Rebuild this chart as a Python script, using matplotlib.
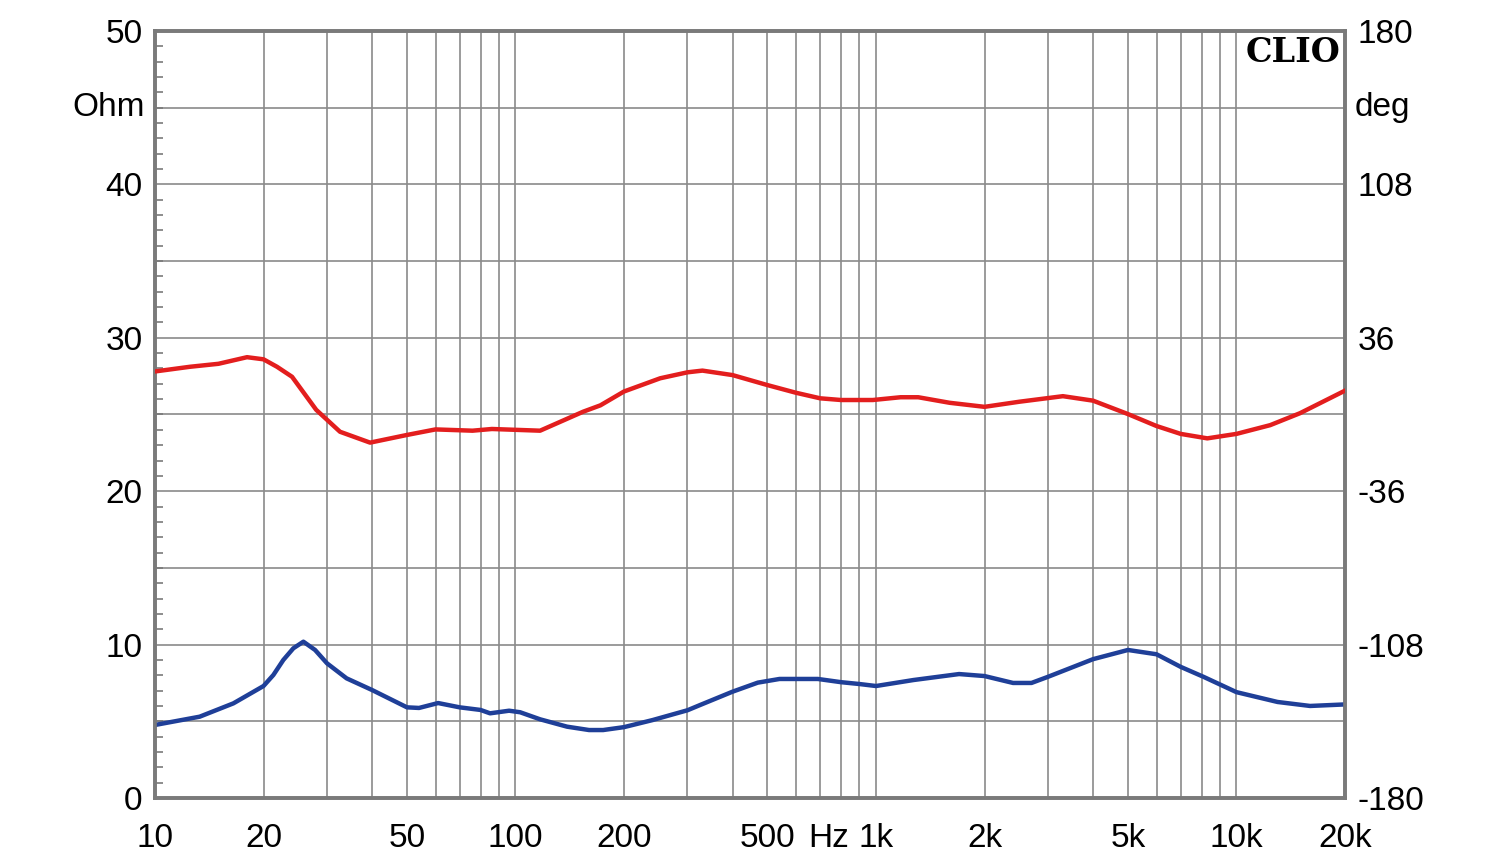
import numpy as np
import matplotlib
matplotlib.use('Agg')
import matplotlib.pyplot as plt
from matplotlib.ticker import FixedLocator, NullFormatter, NullLocator

plt.rcParams['font.family'] = ['Liberation Sans', 'DejaVu Sans']

# impedance magnitude (Ohm), blue
imp_freq = [10, 13.3, 16.5, 20, 21.3, 22.7, 24.2, 25.8, 27.8, 30, 34, 40, 50, 54, 61, 70,
            80, 85, 96, 103, 117, 139, 160, 175, 200, 240, 300, 325, 400, 470, 540, 690,
            800, 900, 1000, 1270, 1700, 2000, 2400, 2700, 3000, 4000, 5000, 6000, 7000,
            8100, 10000, 13000, 16000, 20000]
imp_ohm = [4.76, 5.3, 6.17, 7.3, 8.02, 9.0, 9.76, 10.19, 9.65, 8.78, 7.8, 7.04, 5.91,
           5.87, 6.19, 5.91, 5.74, 5.52, 5.69, 5.59, 5.13, 4.65, 4.43, 4.43, 4.62, 5.08,
           5.72, 6.06, 6.93, 7.52, 7.76, 7.76, 7.55, 7.43, 7.3, 7.69, 8.08, 7.95, 7.5,
           7.5, 7.9, 9.05, 9.65, 9.37, 8.55, 7.9, 6.9, 6.26, 6.0, 6.1]

# impedance phase (deg), red
ph_freq = [10, 12.5, 15, 18, 20, 21.8, 24, 28, 32.6, 39.5, 50, 60, 76, 86, 117, 154,
           172, 200, 252, 300, 330, 400, 500, 600, 700, 800, 980, 1170, 1310, 1600,
           2000, 2500, 3300, 4000, 5000, 6000, 7000, 8300, 10000, 12400, 15000, 20000]
ph_deg = [20.2, 22.4, 23.8, 26.9, 25.9, 22.4, 17.7, 2.2, -8.1, -13.2, -9.6, -7.0, -7.6,
          -6.8, -7.6, 1.3, 4.3, 10.8, 17.0, 19.8, 20.6, 18.5, 13.8, 10.2, 7.6, 6.8, 6.8,
          8.1, 8.1, 5.5, 3.6, 6.0, 8.6, 6.5, 0.2, -5.4, -9.1, -11.2, -9.1, -5.0, 0.6, 11.2]

x_ticks = [10, 20, 50, 100, 200, 500, 1000, 2000, 5000, 10000, 20000]
x_labels = ['10', '20', '50', '100', '200', '500', '1k', '2k', '5k', '10k', '20k']
ohm_ticks = [0, 10, 20, 30, 40, 50]
deg_ticks = [-180, -108, -36, 36, 108, 180]
deg_labels = ['-180', '-108', '-36', '36', '108', '180']

grid_c = '#8a8a8a'
spine_c = '#7a7a7a'
fs = 24

fig = plt.figure(figsize=(15, 8.64), dpi=100)
ax = fig.add_axes([155/1500, 66/864, 1190/1500, 767/864])
ax.set_xscale('log')
ax.set_xlim(10, 20000)
ax.set_ylim(0, 50)

# grid
vlines = [m * 10**d for d in range(1, 5) for m in range(1, 10) if 10 < m * 10**d < 20000]
for v in vlines:
    ax.axvline(v, color=grid_c, lw=1.2, zorder=1)
for h in range(5, 50, 5):
    ax.axhline(h, color=grid_c, lw=1.2, zorder=1)

ax.xaxis.set_major_locator(FixedLocator(x_ticks))
ax.set_xticklabels(x_labels)
ax.xaxis.set_minor_locator(NullLocator())
ax.xaxis.set_minor_formatter(NullFormatter())
ax.tick_params(axis='x', length=0, pad=18, labelsize=fs)

ax.set_yticks(ohm_ticks)
ax.yaxis.set_minor_locator(FixedLocator(np.arange(0, 51, 1)))
ax.tick_params(axis='y', which='major', length=0, pad=9, labelsize=fs)
ax.tick_params(axis='y', which='minor', direction='in', length=6, width=1.2,
               color=spine_c, left=True, right=True)

ax2 = ax.twinx()
ax2.set_ylim(-180, 180)
ax2.set_yticks(deg_ticks)
ax2.set_yticklabels(deg_labels)
ax2.tick_params(axis='y', length=0, pad=9, labelsize=fs)

for a in (ax, ax2):
    for s in a.spines.values():
        s.set_color(spine_c)
        s.set_linewidth(2.6)

ax.plot(imp_freq, imp_ohm, color='#1f3f98', lw=3.2, zorder=4, solid_joinstyle='round')
ax2.plot(ph_freq, ph_deg, color='#e31e1e', lw=3.2, zorder=4, solid_joinstyle='round')

ax.text(-0.0085, 0.9, 'Ohm', transform=ax.transAxes, ha='right', va='center', fontsize=fs)
ax2.text(1.0085, 0.9, 'deg', transform=ax2.transAxes, ha='left', va='center', fontsize=fs)
# "Hz" sits in the tick label row, between 500 and 1k
hz_lbl = ax.xaxis.get_majorticklabels()[0]
ax.annotate('Hz', xy=(740, 0), xycoords=('data', 'axes fraction'),
            xytext=(0, -18), textcoords='offset points', ha='center', va='top', fontsize=fs)
ax.text(0.9965, 0.994, 'CLIO', transform=ax.transAxes, ha='right', va='top',
        fontsize=24, fontweight='bold', family=['DejaVu Serif'])

fig.savefig('out.png', dpi=100)
